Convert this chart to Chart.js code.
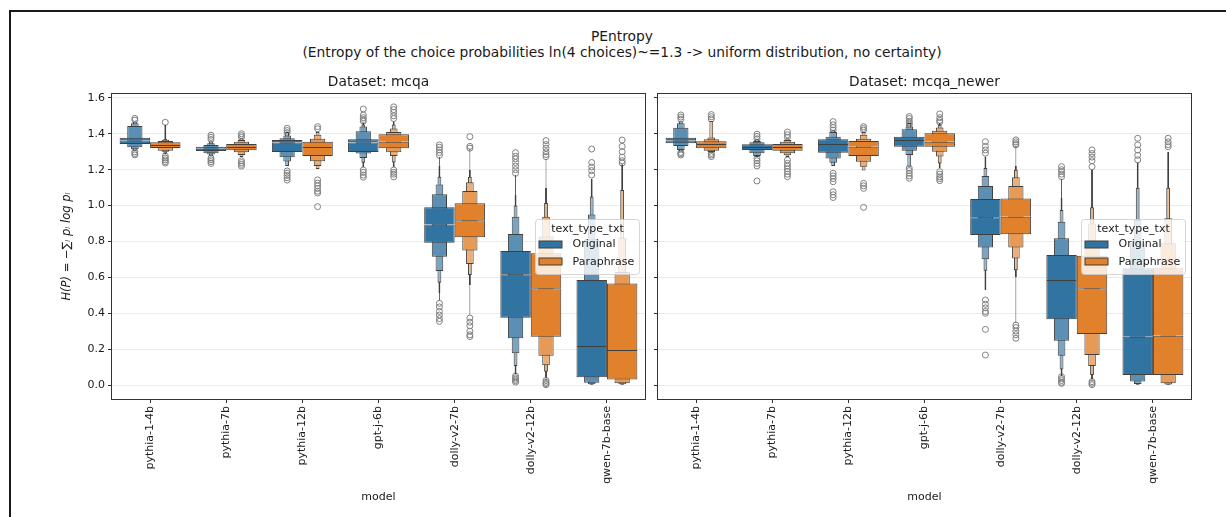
<!DOCTYPE html>
<html><head><meta charset="utf-8">
<script src="https://cdn.jsdelivr.net/npm/chart.js@4.4.1/dist/chart.umd.min.js"></script>
<style>
html,body{margin:0;padding:0;background:#fff;}
#fig{position:relative;width:1226px;height:517px;overflow:hidden;font-family:"DejaVu Sans",sans-serif;}
#frame{position:absolute;left:9px;top:10px;width:1300px;height:600px;border-top:2px solid #1a1a1a;border-left:2px solid #1a1a1a;}
#sup{position:absolute;left:10px;width:1224px;top:27.5px;text-align:center;font-size:13.8px;line-height:16.5px;color:#1a1a1a;}
canvas{position:absolute;top:0;}
</style></head><body>
<div id="fig">
<div id="frame"></div>
<div id="sup">PEntropy<br>(Entropy of the choice probabilities ln(4 choices)~=1.3 -&gt; uniform distribution, no certainty)</div>
<canvas id="c1" width="652" height="517" style="left:0"></canvas>
<canvas id="c2" width="574" height="517" style="left:652px"></canvas>
</div>
<script>
// ---------------- data ----------------
const models = ['pythia-1-4b','pythia-7b','pythia-12b','gpt-j-6b','dolly-v2-7b','dolly-v2-12b','qwen-7b-base'];
const hues = ['Original','Paraphrase'];
const yTicks = [0.0,0.2,0.4,0.6,0.8,1.0,1.2,1.4,1.6];

// Dataset: mcqa
const mcqaOriginalMedian = [1.362,1.317,1.351,1.351,0.895,0.617,0.217];
const mcqaOriginalLevels = [
 [[1.343,1.378],[1.325,1.444],[1.314,1.459],[1.305,1.468]],
 [[1.304,1.328],[1.292,1.338],[1.284,1.347],[1.275,1.358]],
 [[1.299,1.366],[1.269,1.375],[1.245,1.39],[1.22,1.41]],
 [[1.299,1.369],[1.29,1.414],[1.265,1.44],[1.239,1.452],[1.215,1.462]],
 [[0.793,0.99],[0.715,1.063],[0.635,1.117],[0.57,1.161],[0.511,1.221],[0.47,1.27]],
 [[0.375,0.747],[0.26,0.842],[0.177,0.938],[0.106,1.0],[0.061,1.059],[0.058,1.17]],
 [[0.043,0.585],[0.013,0.812],[0.004,0.95],[0.001,1.05],[0.0,1.15]]
];
const mcqaOriginalOutliers = [
 [1.486,1.476,1.300,1.290,1.282],
 [1.392,1.380,1.368,1.265,1.255,1.245,1.235],
 [1.431,1.418,1.406,1.193,1.180,1.168,1.155,1.142],
 [1.538,1.505,1.490,1.480,1.470,1.198,1.185,1.170,1.158],
 [1.338,1.325,1.310,1.295,1.280,0.455,0.435,0.410,0.390,0.370,0.355],
 [1.295,1.275,1.260,1.240,1.220,1.200,1.180,0.050,0.040,0.032,0.024,0.016],
 [1.315,1.240,1.215,1.195,1.170]
];
const mcqaParaphraseMedian = [1.338,1.326,1.326,1.356,0.918,0.539,0.195];
const mcqaParaphraseLevels = [
 [[1.321,1.353],[1.306,1.36],[1.30,1.367],[1.29,1.372],[1.285,1.45]],
 [[1.308,1.343],[1.297,1.356],[1.282,1.365],[1.27,1.375]],
 [[1.276,1.356],[1.247,1.373],[1.22,1.395],[1.204,1.41]],
 [[1.319,1.397],[1.297,1.41],[1.276,1.43],[1.24,1.452],[1.215,1.468]],
 [[0.823,1.013],[0.749,1.081],[0.674,1.13],[0.613,1.161],[0.558,1.199],[0.39,1.32]],
 [[0.269,0.734],[0.163,0.827],[0.11,0.938],[0.074,1.015],[0.04,1.1],[0.03,1.26]],
 [[0.031,0.565],[0.01,0.63],[0.004,0.82],[0.001,1.087],[0.0,1.23]]
];
const mcqaParaphraseOutliers = [
 [1.464,1.276,1.265,1.255,1.245,1.237],
 [1.400,1.390,1.380,1.250,1.240,1.230,1.220],
 [1.440,1.428,1.143,1.125,1.110,1.095,1.080,1.070,0.994],
 [1.550,1.535,1.520,1.500,1.485,1.198,1.185,1.175,1.160],
 [1.384,1.330,1.320,0.373,0.350,0.330,0.300,0.280,0.270],
 [1.362,1.340,1.320,1.300,1.285,1.273,0.025,0.015,0.008,0.002],
 [1.365,1.330,1.300,1.270,1.250,1.237]
];

// Dataset: mcqa_newer
const newerOriginalMedian = [1.362,1.326,1.343,1.366,0.935,0.585,0.269];
const newerOriginalLevels = [
 [[1.347,1.378],[1.332,1.434],[1.31,1.459],[1.302,1.47]],
 [[1.31,1.342],[1.291,1.353],[1.276,1.36],[1.27,1.37]],
 [[1.295,1.369],[1.263,1.384],[1.239,1.41],[1.22,1.42]],
 [[1.328,1.384],[1.306,1.425],[1.282,1.44],[1.217,1.46]],
 [[0.836,1.037],[0.767,1.109],[0.701,1.165],[0.637,1.21],[0.53,1.273]],
 [[0.366,0.725],[0.247,0.818],[0.163,0.91],[0.087,0.975],[0.049,1.042],[0.05,1.15]],
 [[0.056,0.65],[0.02,0.79],[0.006,0.92],[0.002,1.1],[0.0,1.24]]
];
const newerOriginalOutliers = [
 [1.505,1.493,1.481,1.296,1.289,1.282],
 [1.398,1.385,1.372,1.264,1.250,1.235,1.221,1.137],
 [1.468,1.450,1.435,1.421,1.180,1.165,1.150,1.133,1.077,1.060,1.045],
 [1.496,1.485,1.470,1.460,1.449,1.208,1.195,1.180,1.165,1.152],
 [1.356,1.330,1.310,1.292,0.474,0.450,0.430,0.410,0.400,0.310,0.167],
 [1.217,1.200,1.190,1.175,1.161,0.046,0.035,0.025,0.015,0.009],
 [1.375,1.338,1.310,1.280,1.255]
];
const newerParaphraseMedian = [1.343,1.326,1.328,1.356,0.938,0.539,0.275];
const newerParaphraseLevels = [
 [[1.32,1.359],[1.306,1.37],[1.298,1.38],[1.295,1.472]],
 [[1.306,1.343],[1.291,1.355],[1.28,1.365],[1.27,1.375]],
 [[1.276,1.36],[1.244,1.373],[1.217,1.395],[1.195,1.41]],
 [[1.328,1.403],[1.30,1.417],[1.273,1.435],[1.235,1.45],[1.21,1.46]],
 [[0.84,1.04],[0.767,1.109],[0.705,1.158],[0.64,1.2],[0.6,1.22],[0.344,1.33]],
 [[0.284,0.72],[0.167,0.8],[0.106,0.9],[0.056,0.99],[0.03,1.2]],
 [[0.056,0.65],[0.01,0.79],[0.003,0.93],[0.001,1.1],[0.0,1.3]]
];
const newerParaphraseOutliers = [
 [1.507,1.495,1.483,1.291,1.282,1.273],
 [1.410,1.395,1.380,1.254,1.235,1.220,1.205,1.190,1.175,1.161],
 [1.440,1.430,1.420,1.124,1.110,1.096,0.990],
 [1.511,1.490,1.475,1.465,1.189,1.175,1.160,1.150,1.139],
 [1.366,1.355,1.345,1.338,0.334,0.320,0.300,0.280,0.260],
 [1.310,1.290,1.270,1.250,1.217,0.019,0.010,0.002],
 [1.375,1.355,1.340,1.328]
];

// ---------------- styling ----------------
const FONT = '"DejaVu Sans", sans-serif';
Chart.defaults.font.family = FONT;
Chart.defaults.color = '#1a1a1a';
const hueColors = ['#3274a1', '#e1812c'];
const hueOffsets = [-0.2, 0.2];
const edgeColor = '#3f3f3f';
const levelTint = [0, 0.2, 0.35, 0.5, 0.62, 0.72, 0.8, 0.85];

function tint(hex, f) {
  const n = parseInt(hex.slice(1), 16);
  const c = [(n >> 16) & 255, (n >> 8) & 255, n & 255].map(v => Math.round(v + (255 - v) * f));
  return `rgb(${c[0]},${c[1]},${c[2]})`;
}

function buildDatasets(groups) {
  const ds = [];
  const barBase = {type: 'bar', grouped: false, categoryPercentage: 1, borderSkipped: false,
                   borderColor: edgeColor, inflateAmount: 0};
  // level 0 split at the median (drawn last => on top)
  groups.forEach((g, h) => {
    ds.push(Object.assign({}, barBase, {
      label: hues[h] + ' lower', barPercentage: 1, backgroundColor: hueColors[h], borderWidth: 1,
      data: models.map((m, i) => ({x: i + hueOffsets[h], y: [g.levels[i][0][0], g.median[i]]}))
    }));
    ds.push(Object.assign({}, barBase, {
      label: hues[h] + ' upper', barPercentage: 1, backgroundColor: hueColors[h],
      borderWidth: {top: 1, left: 1, right: 1, bottom: 0},
      data: models.map((m, i) => ({x: i + hueOffsets[h], y: [g.median[i], g.levels[i][0][1]]}))
    }));
  });
  const maxLv = Math.max(...groups.map(g => Math.max(...g.levels.map(l => l.length))));
  for (let k = 1; k < maxLv; k++) {
    groups.forEach((g, h) => {
      const data = [];
      models.forEach((m, i) => { if (g.levels[i][k]) data.push({x: i + hueOffsets[h], y: g.levels[i][k]}); });
      ds.push(Object.assign({}, barBase, {
        label: hues[h] + ' level ' + k, barPercentage: Math.pow(0.5, k),
        backgroundColor: tint(hueColors[h], levelTint[k]), borderWidth: 1, data
      }));
    });
  }
  groups.forEach((g, h) => {
    const data = [];
    models.forEach((m, i) => g.outliers[i].forEach(v => data.push({x: i + hueOffsets[h], y: v})));
    ds.push({type: 'scatter', label: hues[h] + ' outliers', data, pointStyle: 'circle', pointRadius: 3,
             borderColor: '#808080', backgroundColor: 'rgba(0,0,0,0)', borderWidth: 1});
  });
  return ds;
}

const framePlugin = {
  id: 'frame',
  afterDatasetsDraw(chart) {
    const {ctx, chartArea: a} = chart;
    ctx.save();
    ctx.strokeStyle = '#333';
    ctx.lineWidth = 1;
    ctx.strokeRect(Math.round(a.left) - 0.5, Math.round(a.top) - 0.5, Math.round(a.right - a.left) + 1, Math.round(a.bottom - a.top) + 1);
    ctx.restore();
  }
};

const legendPlugin = {
  id: 'boxLegend',
  afterDraw(chart) {
    const {ctx, chartArea: a} = chart;
    ctx.save();
    ctx.font = '11px ' + FONT;
    const textW = Math.max(...hues.map(h => ctx.measureText(h).width));
    const w = Math.round(37 + textW + 5), h = 55;
    const x = Math.round(a.right - 6 - w) + 0.5, y = Math.round((a.top + a.bottom) / 2 - h / 2) + 0.5;
    ctx.beginPath();
    ctx.roundRect(x, y, w, h, 3);
    ctx.fillStyle = 'rgba(255,255,255,0.8)';
    ctx.fill();
    ctx.strokeStyle = 'rgba(204,204,204,0.8)';
    ctx.lineWidth = 1;
    ctx.stroke();
    ctx.fillStyle = '#1a1a1a';
    ctx.textBaseline = 'middle';
    ctx.textAlign = 'center';
    ctx.fillText('text_type_txt', x + w / 2, y + 9.5);
    ctx.textAlign = 'left';
    hues.forEach((hn, i) => {
      const cy = y + 25 + i * 17.7;
      ctx.fillStyle = hueColors[i];
      ctx.fillRect(x + 3.5, Math.round(cy - 4), 23, 7);
      ctx.strokeStyle = edgeColor;
      ctx.strokeRect(x + 3.5, Math.round(cy - 4), 23, 7);
      ctx.fillStyle = '#1a1a1a';
      ctx.fillText(hn, x + 37, cy);
    });
    ctx.restore();
  }
};

function makeChart(canvasId, title, groups, showY, pad) {
  return new Chart(document.getElementById(canvasId), {
    type: 'bar',
    data: {datasets: buildDatasets(groups)},
    options: {
      responsive: false, animation: false, events: [],
      layout: {padding: pad},
      plugins: {
        legend: {display: false}, tooltip: {enabled: false},
        title: {display: true, text: title, fullSize: false, font: {size: 13.8, weight: 'normal'}, color: '#1a1a1a',
                padding: {top: 0, bottom: 3.7}}
      },
      scales: {
        x: {
          type: 'linear', min: -0.5, max: 6.5, offset: false, stacked: false,
          grid: {display: true, drawOnChartArea: false, drawTicks: true, tickLength: 4, tickColor: '#333', offset: false},
          border: {display: false},
          afterBuildTicks: s => { s.ticks = models.map((m, i) => ({value: i})); },
          ticks: {autoSkip: false, minRotation: 90, maxRotation: 90, padding: 3, font: {size: 11}, color: '#1a1a1a',
                  callback: v => models[Math.round(v)]},
          afterFit: s => { s.height = 104.6; },
          title: {display: true, text: 'model', font: {size: 11}, color: '#1a1a1a', padding: 0}
        },
        y: {
          min: -0.078, max: 1.622, stacked: false,
          grid: {color: '#ebebeb', tickColor: '#333', tickLength: 4, drawTicks: true},
          border: {display: false},
          afterBuildTicks: s => { s.ticks = yTicks.map(v => ({value: v})); },
          ticks: {font: {size: 11}, color: '#1a1a1a', padding: 3,
                  callback: v => showY ? v.toFixed(1) : ''},
          afterFit: s => { s.width = showY ? 52 : 6; },
          title: {display: showY, text: 'H(P) = \u2212\u2211\u1d62 p\u1d62 log p\u1d62', font: {size: 11.5, style: 'italic'}, color: '#1a1a1a', padding: 0}
        }
      }
    },
    plugins: [framePlugin, legendPlugin]
  });
}

makeChart('c1', 'Dataset: mcqa', [
  {median: mcqaOriginalMedian, levels: mcqaOriginalLevels, outliers: mcqaOriginalOutliers},
  {median: mcqaParaphraseMedian, levels: mcqaParaphraseLevels, outliers: mcqaParaphraseOutliers}
], true, {left: 60, top: 73.7, right: 7, bottom: 13.4});

makeChart('c2', 'Dataset: mcqa_newer', [
  {median: newerOriginalMedian, levels: newerOriginalLevels, outliers: newerOriginalOutliers},
  {median: newerParaphraseMedian, levels: newerParaphraseLevels, outliers: newerParaphraseOutliers}
], false, {left: 0, top: 73.7, right: 35, bottom: 13.4});
</script>
</body></html>
